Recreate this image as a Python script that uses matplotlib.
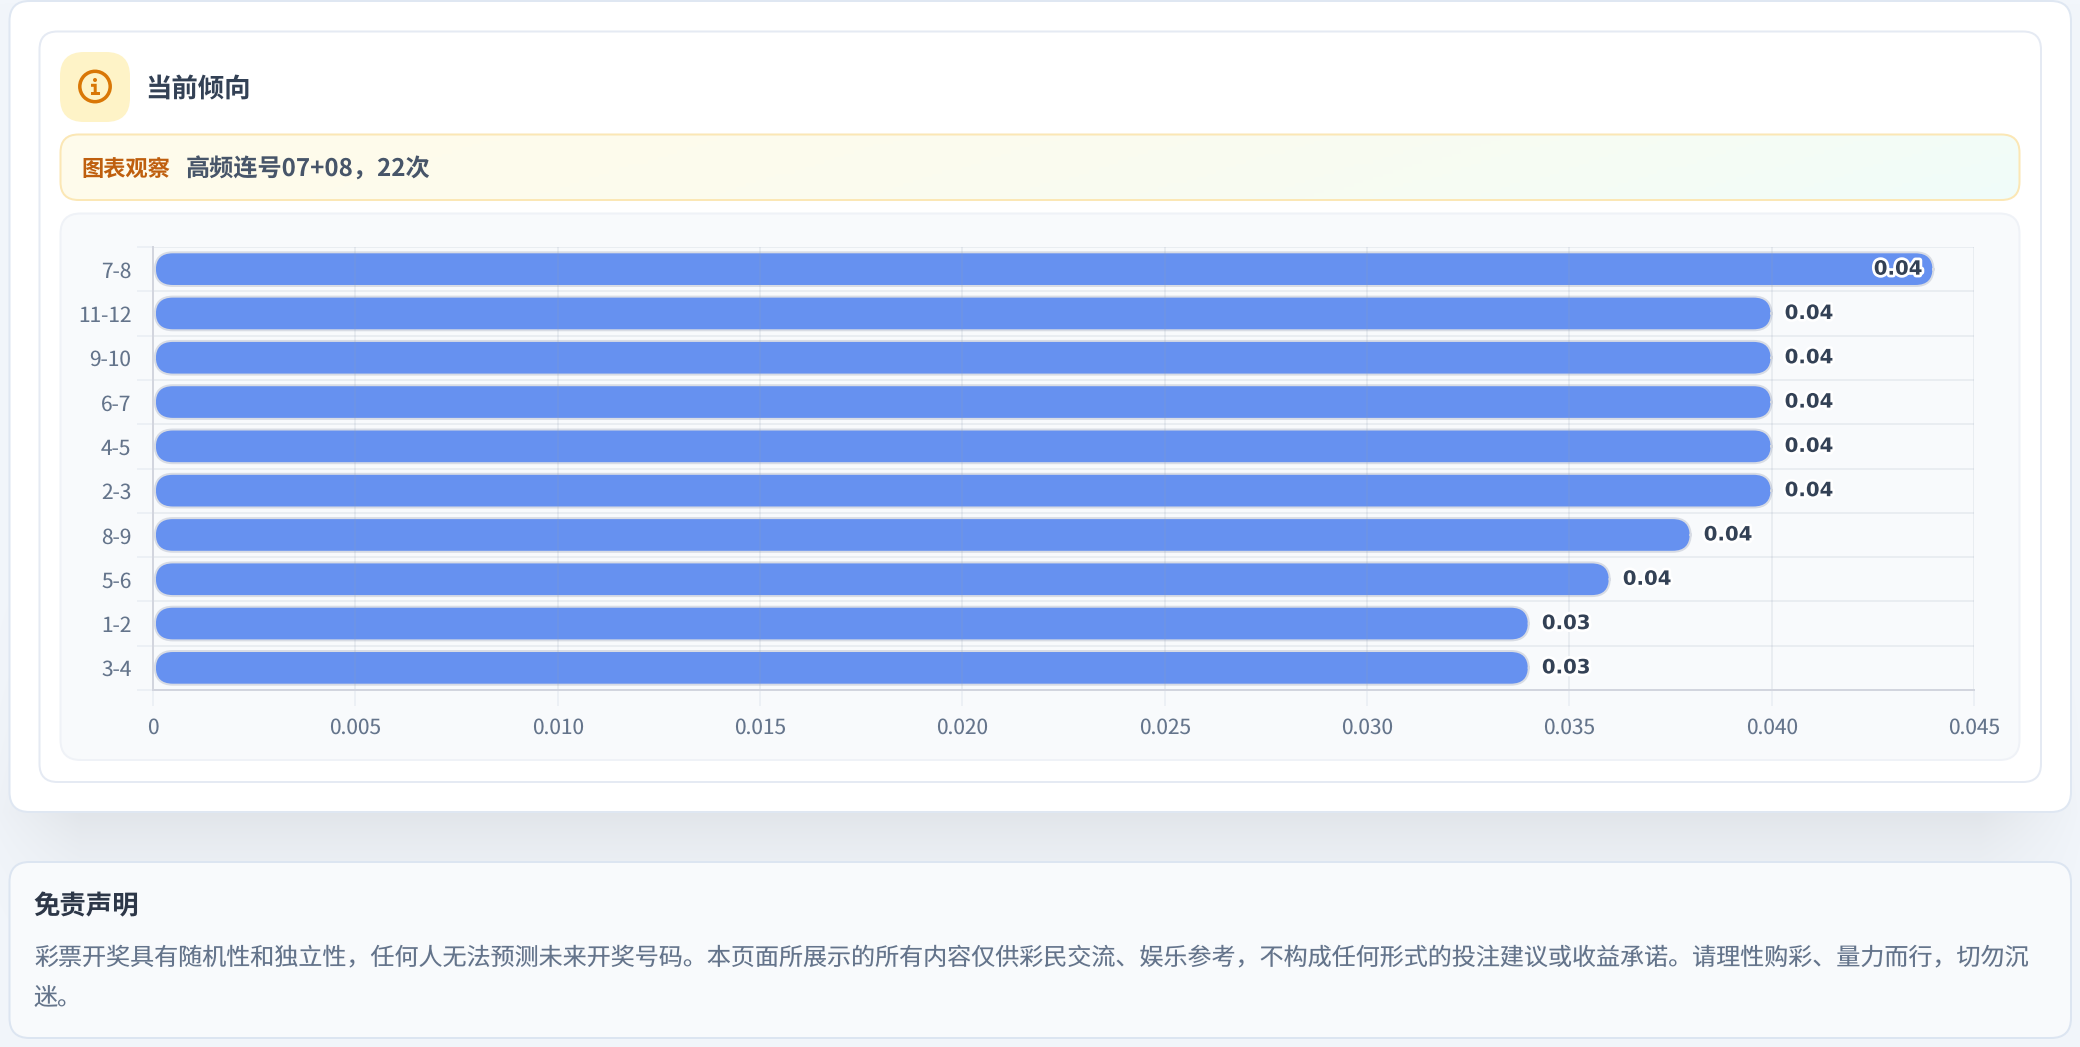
import matplotlib
matplotlib.use("Agg")
import matplotlib.pyplot as plt
import matplotlib.patheffects as pe
from matplotlib.patches import Circle, FancyBboxPatch
from matplotlib.colors import to_rgb
import numpy as np

plt.rcParams['font.family'] = ['Noto Sans CJK SC', 'DejaVu Sans']
plt.rcParams['text.hinting'] = 'no_hinting'

# data
pairs = ['7-8', '11-12', '9-10', '6-7', '4-5', '2-3', '8-9', '5-6', '1-2', '3-4']
rates = [0.044, 0.040, 0.040, 0.040, 0.040, 0.040, 0.038, 0.036, 0.034, 0.034]
x_ticks = [0, 0.005, 0.010, 0.015, 0.020, 0.025, 0.030, 0.035, 0.040, 0.045]
x_tick_labels = ['0', '0.005', '0.010', '0.015', '0.020', '0.025', '0.030', '0.035', '0.040', '0.045']

card_title = '当前倾向'
note_tag = '图表观察'
note_text = '高频连号07+08，22次'
disclaimer_title = '免责声明'
disclaimer_lines = [
    '彩票开奖具有随机性和独立性，任何人无法预测未来开奖号码。本页面所展示的所有内容仅供彩民交流、娱乐参考，不构成任何形式的投注建议或收益承诺。请理性购彩、量力而行，切勿沉',
    '迷。',
]

W, H = 2080, 1047
px = 72 / 100  # points per pixel at dpi 100

fig = plt.figure(figsize=(W / 100, H / 100), dpi=100)

# page layer in pixel coordinates
bg = fig.add_axes([0, 0, 1, 1], zorder=0)
bg.set_xlim(0, W)
bg.set_ylim(H, 0)
bg.axis('off')


def gradient_image(c1, c2, w, h):
    # diagonal blend from c1 to c2, stays warm for most of the strip
    yy, xx = np.mgrid[0:h, 0:w]
    t = ((xx / w * 0.9 + yy / h * 0.1) ** 1.7)[..., None]
    return (1 - t) * np.array(to_rgb(c1)) + t * np.array(to_rgb(c2))


# page colour with the soft shadow under the top card
yy, xx = np.mgrid[0:H, 0:W]
sy = np.where(yy < 812, 1.0, np.exp(-np.clip(yy - 812, 0, None) / 60.0))
sx = np.clip((xx + 30) / 110, 0, 1) * np.clip((W - xx + 10) / 110, 0, 1)
shade = (sy * sx * np.clip(yy / 812, 0, 1) ** 6)[..., None]
page = (1 - 0.07 * shade) * np.array(to_rgb('#f2f6fb'))
bg.imshow(page, extent=(0, W, H, 0), aspect='auto', zorder=0)
bg.set_xlim(0, W)
bg.set_ylim(H, 0)


def card(x0, y0, x1, y1, r, face, edge, lw=2, z=1):
    p = FancyBboxPatch((x0, y0), x1 - x0, y1 - y0,
                       boxstyle=f'round,pad=0,rounding_size={r}',
                       facecolor=face, edgecolor=edge, linewidth=lw * px, zorder=z)
    bg.add_patch(p)
    return p


card(9.5, 1, 2071, 812, 20, 'white', '#dfe7f2')
card(39.5, 31.5, 2041, 782, 18, 'white', '#e5eaf3', z=2)
card(60, 52, 130, 122, 24, '#fef3c7', 'none', lw=0, z=3)

# info icon
bg.add_patch(Circle((95, 86.5), 15.2, facecolor='none', edgecolor='#d97706', linewidth=3.5 * px, zorder=4))
bg.add_patch(Circle((95, 80), 2, facecolor='#d97706', edgecolor='none', zorder=4))
stem = bg.plot([92.5, 95.2, 95.2], [85.3, 85.3, 93.5], color='#d97706', lw=3 * px, solid_joinstyle='miter', zorder=4)[0]
foot = bg.plot([92.5, 98.5], [93.5, 93.5], color='#d97706', lw=3 * px, zorder=4)[0]
stem.set_snap(False)
foot.set_snap(False)

bg.text(145.5, 97.5, card_title, fontsize=19, fontweight='bold', color='#334155', va='baseline', zorder=4)

# note strip, gradient clipped to rounded box
note = card(60.5, 134.5, 2019.5, 200, 18, 'none', '#fbe7b5', z=4)
grad = bg.imshow(gradient_image('#fffbeb', '#f0fdfa', 200, 20), extent=(60, 2020, 200, 134), aspect='auto', zorder=3)
grad.set_clip_path(note)
bg.set_xlim(0, W)
bg.set_ylim(H, 0)
bg.text(81.5, 176, note_tag, fontsize=16, fontweight='bold', color='#bf5f0e', va='baseline', zorder=5)
bg.text(186, 177, note_text, fontsize=17.4, fontweight='bold', color='#475569', va='baseline', zorder=5)

# chart panel
card(60.5, 213.5, 2019.5, 760, 20, '#f8fafc', '#eff2f7', z=2)

# disclaimer
card(9.5, 862, 2071, 1038, 20, '#f8fafc', '#dce5f1')
bg.text(33, 914, disclaimer_title, fontsize=19, fontweight='bold', color='#2d3748', va='baseline', zorder=4)
for line, ypos in zip(disclaimer_lines, [965.5, 1005.5]):
    bg.text(34, ypos, line, fontsize=17.3, color='#64748b', va='baseline', zorder=4)

# chart axes
ax_x0, ax_x1, ax_top, ax_bottom = 153, 1974, 247, 690
ax = fig.add_axes([ax_x0 / W, 1 - ax_bottom / H, (ax_x1 - ax_x0) / W, (ax_bottom - ax_top) / H], zorder=2)
ax.patch.set_visible(False)
ax.set_xlim(0, 0.045)
ax.set_ylim(len(pairs) - 0.5, -0.5)

unit_x = 0.045 / (ax_x1 - ax_x0)
unit_y = len(pairs) / (ax_bottom - ax_top)
left_gap = 1.8 * unit_x
bar_h = 0.76
for i, v in enumerate(rates):
    ax.add_patch(FancyBboxPatch((left_gap, i - bar_h / 2), v - left_gap, bar_h,
                                boxstyle=f'round,pad=0,rounding_size={18 * unit_x}',
                                mutation_aspect=unit_y / unit_x,
                                facecolor='#6691f0', edgecolor='#d8dce4', linewidth=2 * px, zorder=2))
    label = f'{v:.2f}'
    halo = [pe.withStroke(linewidth=5.5 * px, foreground='white')]
    if v == max(rates):
        ax.annotate(label, (v, i), xytext=(-11 * px, 0), textcoords='offset points', ha='right', va='center',
                    fontsize=14.2, fontweight='bold', family='DejaVu Sans', color='#334155', path_effects=halo, zorder=5)
    else:
        ax.annotate(label, (v, i), xytext=(13 * px, 0), textcoords='offset points', ha='left', va='center',
                    fontsize=14.2, fontweight='bold', family='DejaVu Sans', color='#334155', path_effects=halo, zorder=5)

grid_color = '#94a3b8'
ax.set_axisbelow(False)
ax.set_xticks(x_ticks)
ax.set_xticklabels(x_tick_labels)
ax.set_yticks(range(len(pairs)))
ax.set_yticklabels(pairs)
ax.set_yticks(np.arange(len(pairs) + 1) - 0.5, minor=True)
ax.grid(True, axis='x', color=grid_color, alpha=0.15, linewidth=2 * px, zorder=3)
ax.grid(True, axis='y', which='minor', color=grid_color, alpha=0.15, linewidth=2 * px, zorder=3)
ax.grid(False, axis='y', which='major')
ax.tick_params(axis='x', length=16 * px, width=2 * px, color='#ecf0f5', pad=11 * px, labelsize=15, labelcolor='#64748b')
ax.tick_params(axis='y', which='major', length=0, pad=21.5 * px, labelsize=15, labelcolor='#64748b')
ax.tick_params(axis='y', which='minor', length=16 * px, width=2 * px, color='#ecf0f5')
for side in ['top', 'right']:
    ax.spines[side].set_visible(False)
for side in ['left', 'bottom']:
    ax.spines[side].set_color('#d2d5de')
    ax.spines[side].set_linewidth(2 * px)
    ax.spines[side].set_zorder(4)

fig.savefig('out.png', dpi=100)
